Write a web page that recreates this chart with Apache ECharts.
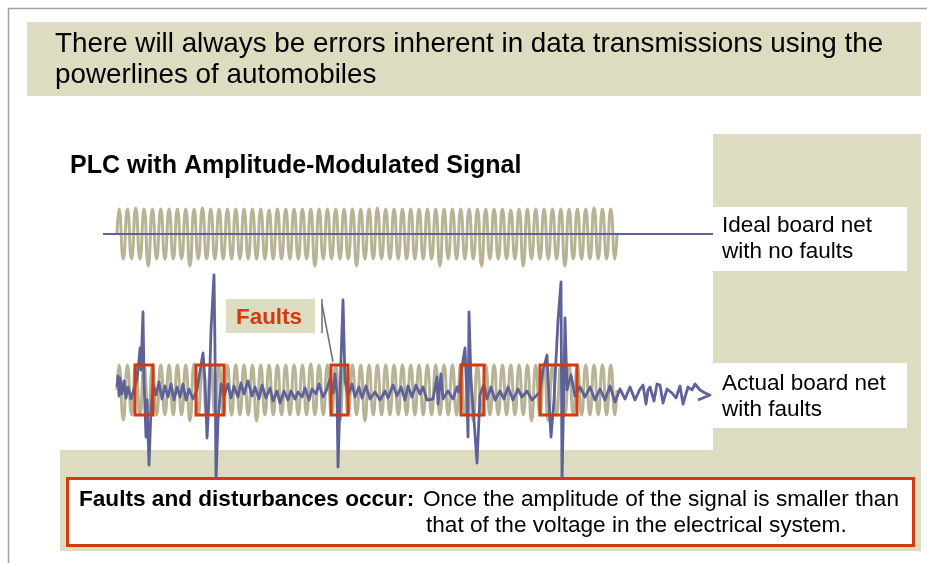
<!DOCTYPE html>
<html><head><meta charset="utf-8">
<script src="https://cdn.jsdelivr.net/npm/echarts@6/dist/echarts.min.js"></script>
<style>html,body{margin:0;padding:0;background:#fff}#c{width:927px;height:563px}</style>
</head><body><div id="c"></div>
<script>
// ---------- DATA ----------
const titleLines = ['There will always be errors inherent in data transmissions using the', 'powerlines of automobiles'];
const chartTitle = 'PLC with Amplitude-Modulated Signal';
const idealLabel = ['Ideal board net', 'with no faults'];
const actualLabel = ['Actual board net', 'with faults'];
const faultsLabel = 'Faults';
const noteBold = 'Faults and disturbances occur:';
const noteText = ['Once the amplitude of the signal is smaller than', 'that of the voltage in the electrical system.'];

// carrier duration (samples) and its half-cycle extremes (mV)
const carrierLength = 500;
const idealCarrier = [
  25,-25,25,-25,26,-25,25,-32,25,-25,
  25,-25,25,-25,25,-25,25,-32,25,-25,
  26,-25,25,-25,25,-25,25,-25,25,-25,
  25,-25,25,-25,25,-25,24,-25,25,-25,
  25,-25,25,-25,25,-25,25,-32,25,-25,
  25,-25,25,-25,25,-25,25,-32,25,-25,
  25,-25,26,-25,25,-25,25,-25,25,-25,
  25,-25,25,-25,25,-25,25,-32,25,-25,
  25,-25,25,-25,25,-25,25,-32,25,-25,
  25,-25,25,-25,24,-25,25,-32,25,-25,
  25,-25,25,-25,25,-25,25,-32,25,-25,
  25,-25,25,-25,26,-25,25,-25,25,-25
];
const actualCarrier = [
  25,-30,25,-25,25,-25,25,-25,25,-25,
  25,-25,25,-25,25,-25,25,-31,26,-25,
  25,-25,25,-25,25,-25,25,-25,25,-25,
  25,-25,25,-31,25,-25,25,-25,25,-25,
  25,-25,25,-25,25,-25,26,-25,25,-25,
  25,-25,25,-31,25,-25,25,-25,25,-31,
  25,-25,25,-25,25,-25,25,-25,25,-25,
  25,-25,25,-25,25,-25,25,-25,25,-25,
  25,-25,25,-25,25,-31,25,-25,25,-25,
  25,-25,25,-25,25,-25,25,-25,25,-31,
  25,-25,25,-31,25,-25,25,-25,25,-25,
  25,-25,25,-25,25,-25,25,-25,25,-25
];
// ideal board net level (sample, mV)
const idealNet = [[-14,0],[596,0]];
// actual board net with faults (sample, mV)
const actualNet = [
[0,3],[1,14],[2,-6],[3,12],[5,-4],[7,9],[9,-8],[11,3],[14,-9],[17,1],[20,11],[22,30],[23,42],[24,20],[26,78],[27,10],[29,-47],[30,-10],[32,-75],[34,-20],[36,6],
[39,-5],[42,8],[45,-9],[48,4],[51,-7],[54,6],[57,-10],[60,3],[63,-7],[66,6],[69,-10],[72,1],[76,-9],[80,0],
[84,25],[86,37],[88,10],[90,-48],[92,-10],[94,60],[97,115],[98,40],[99,-92],[101,-30],[104,6],[107,-6],
[111,6],[114,-8],[117,4],[121,-7],[124,7],[127,-4],[131,9],[135,-6],[138,3],[142,-9],[145,5],[149,-8],[153,2],[156,-11],[160,-1],[163,-13],[167,-1],[171,-10],[174,-1],[178,-9],[181,-2],[185,-7],[188,2],[192,-10],[195,1],[199,-4],[202,6],[206,-7],[210,1],
[213,11],[216,-3],[218,16],[220,-5],[221,-77],[223,-10],[224,30],[226,90],[228,10],[231,-6],
[235,6],[238,-7],[242,3],[245,-8],[249,4],[253,-9],[258,-2],[263,-10],[268,-1],[271,-8],[276,5],[280,-6],[284,3],[288,-10],[291,4],[295,-7],[299,5],[303,-4],[306,3],[310,-10],[316,-9],[320,13],[321,-14],[324,16],[326,-9],[331,-1],[336,-9],[340,3],[342,-2],
[346,30],[348,42],[350,-10],[351,-47],[352,78],[354,10],[357,-30],[360,-73],[363,-5],[367,6],[370,-9],
[374,3],[378,-10],[383,-1],[387,-9],[391,3],[396,-10],[401,1],[405,-7],[410,-1],[415,-10],[420,-5],
[423,-2],[426,20],[430,35],[432,-10],[434,-47],[437,-10],[441,70],[444,108],[445,-92],[447,10],[448,72],[450,0],[454,15],[458,-6],
[463,3],[468,-7],[473,3],[478,-10],[483,1],[488,-10],[493,4],[498,-12],[503,1],[508,-9],[513,3],[518,-10],[523,1],[526,5],[529,-14],[531,0],[533,3],[537,-11],[540,6],[543,5],[546,-13],[550,1],[555,-3],[559,-8],[563,4],[566,-14],[568,-14],[571,3],[575,0],[578,6],[583,0],[588,-3],[593,-5],[581,-10]
];
// fault windows (sample start, sample end)
const faultWindows = [[18,36],[79,107],[214,231],[344,367],[423,460]];
const faultBand = 25; // carrier amplitude, mV

// ---------- BUILD ----------
function carrierPoints(ext) {
  const step = carrierLength / ext.length;
  const pts = [[0, 0]];
  ext.forEach((v, i) => pts.push([(i + 0.5) * step, v]));
  pts.push([carrierLength, 0]);
  return pts;
}
const FONT = "'Liberation Sans', Arial, sans-serif";
const BEIGE = '#dddbc0';
const RED = '#d13b0f';
const BLUE = '#5f6299';
const KHAKI = '#b7b394';

function txt(str, x, y, size, opts) {
  return Object.assign({
    type: 'text', x: x, y: y, z: 20,
    style: Object.assign({ text: str, font: 'normal ' + size + 'px ' + FONT, fill: '#000', textAlign: 'left', textVerticalAlign: 'middle' }, (opts && opts.style) || {})
  }, (opts && opts.el) || {});
}

const chart = echarts.init(document.getElementById('c'), null, { renderer: 'canvas' });
const graphics = [
  { type: 'rect', z: 0, shape: { x: 8.5, y: 8.5, width: 940, height: 600 }, style: { fill: '#fff', stroke: '#a0a0a0', lineWidth: 1.5 } },
  { type: 'rect', z: 1, shape: { x: 27, y: 22, width: 894, height: 74 }, style: { fill: BEIGE } },
  { type: 'rect', z: 1, shape: { x: 713, y: 134, width: 208, height: 417 }, style: { fill: BEIGE } },
  { type: 'rect', z: 1, shape: { x: 60, y: 450, width: 861, height: 101 }, style: { fill: BEIGE } },
  { type: 'rect', z: 1, shape: { x: 713, y: 207, width: 194, height: 64 }, style: { fill: '#fff' } },
  { type: 'rect', z: 1, shape: { x: 713, y: 363, width: 194, height: 65 }, style: { fill: '#fff' } },
  { type: 'rect', z: 20, shape: { x: 67.5, y: 478.5, width: 846, height: 67 }, style: { fill: '#fff', stroke: RED, lineWidth: 3 } },
  { type: 'rect', z: 20, shape: { x: 226, y: 299, width: 89, height: 34 }, style: { fill: BEIGE } },
  { type: 'line', z: 20, shape: { x1: 322, y1: 299, x2: 322, y2: 333 }, style: { stroke: '#6e6e6e', lineWidth: 1.5 } },
  { type: 'line', z: 20, shape: { x1: 322, y1: 304, x2: 333, y2: 362 }, style: { stroke: '#6e6e6e', lineWidth: 1.5 } },
  txt(titleLines[0], 55, 44, 27.8),
  txt(titleLines[1], 55, 75, 27.8),
  txt(chartTitle, 70, 166, 25, { style: { font: 'bold 25px ' + FONT } }),
  txt(idealLabel[0], 722, 226, 22.5),
  txt(idealLabel[1], 722, 252, 22.5),
  txt(actualLabel[0], 722, 384, 22.5),
  txt(actualLabel[1], 722, 410, 22.5),
  txt(faultsLabel, 269, 318, 22.4, { style: { font: 'bold 22.4px ' + FONT, fill: RED, textAlign: 'center' } }),
  txt(noteBold, 79, 500, 22.6, { style: { font: 'bold 22.6px ' + FONT } }),
  txt(noteText[0], 423, 500, 22.6),
  txt(noteText[1], 426, 526, 22.6)
];

chart.setOption({
  animation: false,
  grid: [
    { left: 103, width: 610, top: 184, height: 100 },
    { left: 103, width: 610, top: 265, height: 250 }
  ],
  xAxis: [
    { type: 'value', gridIndex: 0, min: -14, max: 596, show: false },
    { type: 'value', gridIndex: 1, min: -14, max: 596, show: false }
  ],
  yAxis: [
    { type: 'value', gridIndex: 0, min: -50, max: 50, show: false },
    { type: 'value', gridIndex: 1, min: -125, max: 125, show: false }
  ],
  graphic: { elements: graphics },
  series: [
    { type: 'line', xAxisIndex: 0, yAxisIndex: 0, data: carrierPoints(idealCarrier), smooth: 0.55, showSymbol: false, clip: false, z: 3,
      lineStyle: { color: KHAKI, width: 3 } },
    { type: 'line', xAxisIndex: 0, yAxisIndex: 0, data: idealNet, showSymbol: false, clip: false, z: 4,
      lineStyle: { color: BLUE, width: 2 } },
    { type: 'line', xAxisIndex: 1, yAxisIndex: 1, data: carrierPoints(actualCarrier), smooth: 0.55, showSymbol: false, clip: false, z: 3,
      lineStyle: { color: KHAKI, width: 3 } },
    { type: 'line', xAxisIndex: 1, yAxisIndex: 1, data: actualNet, showSymbol: false, clip: false, z: 4,
      lineStyle: { color: BLUE, width: 2.8, join: 'round' } },
    { type: 'custom', xAxisIndex: 1, yAxisIndex: 1, z: 6, clip: false,
      data: faultWindows, encode: { x: [0, 1] },
      renderItem: function (params, api) {
        const a = api.coord([api.value(0), faultBand]);
        const b = api.coord([api.value(1), -faultBand]);
        return { type: 'rect', shape: { x: a[0], y: a[1], width: b[0] - a[0], height: b[1] - a[1] },
          style: { fill: 'none', stroke: RED, lineWidth: 3 } };
      } }
  ]
});
</script></body></html>
